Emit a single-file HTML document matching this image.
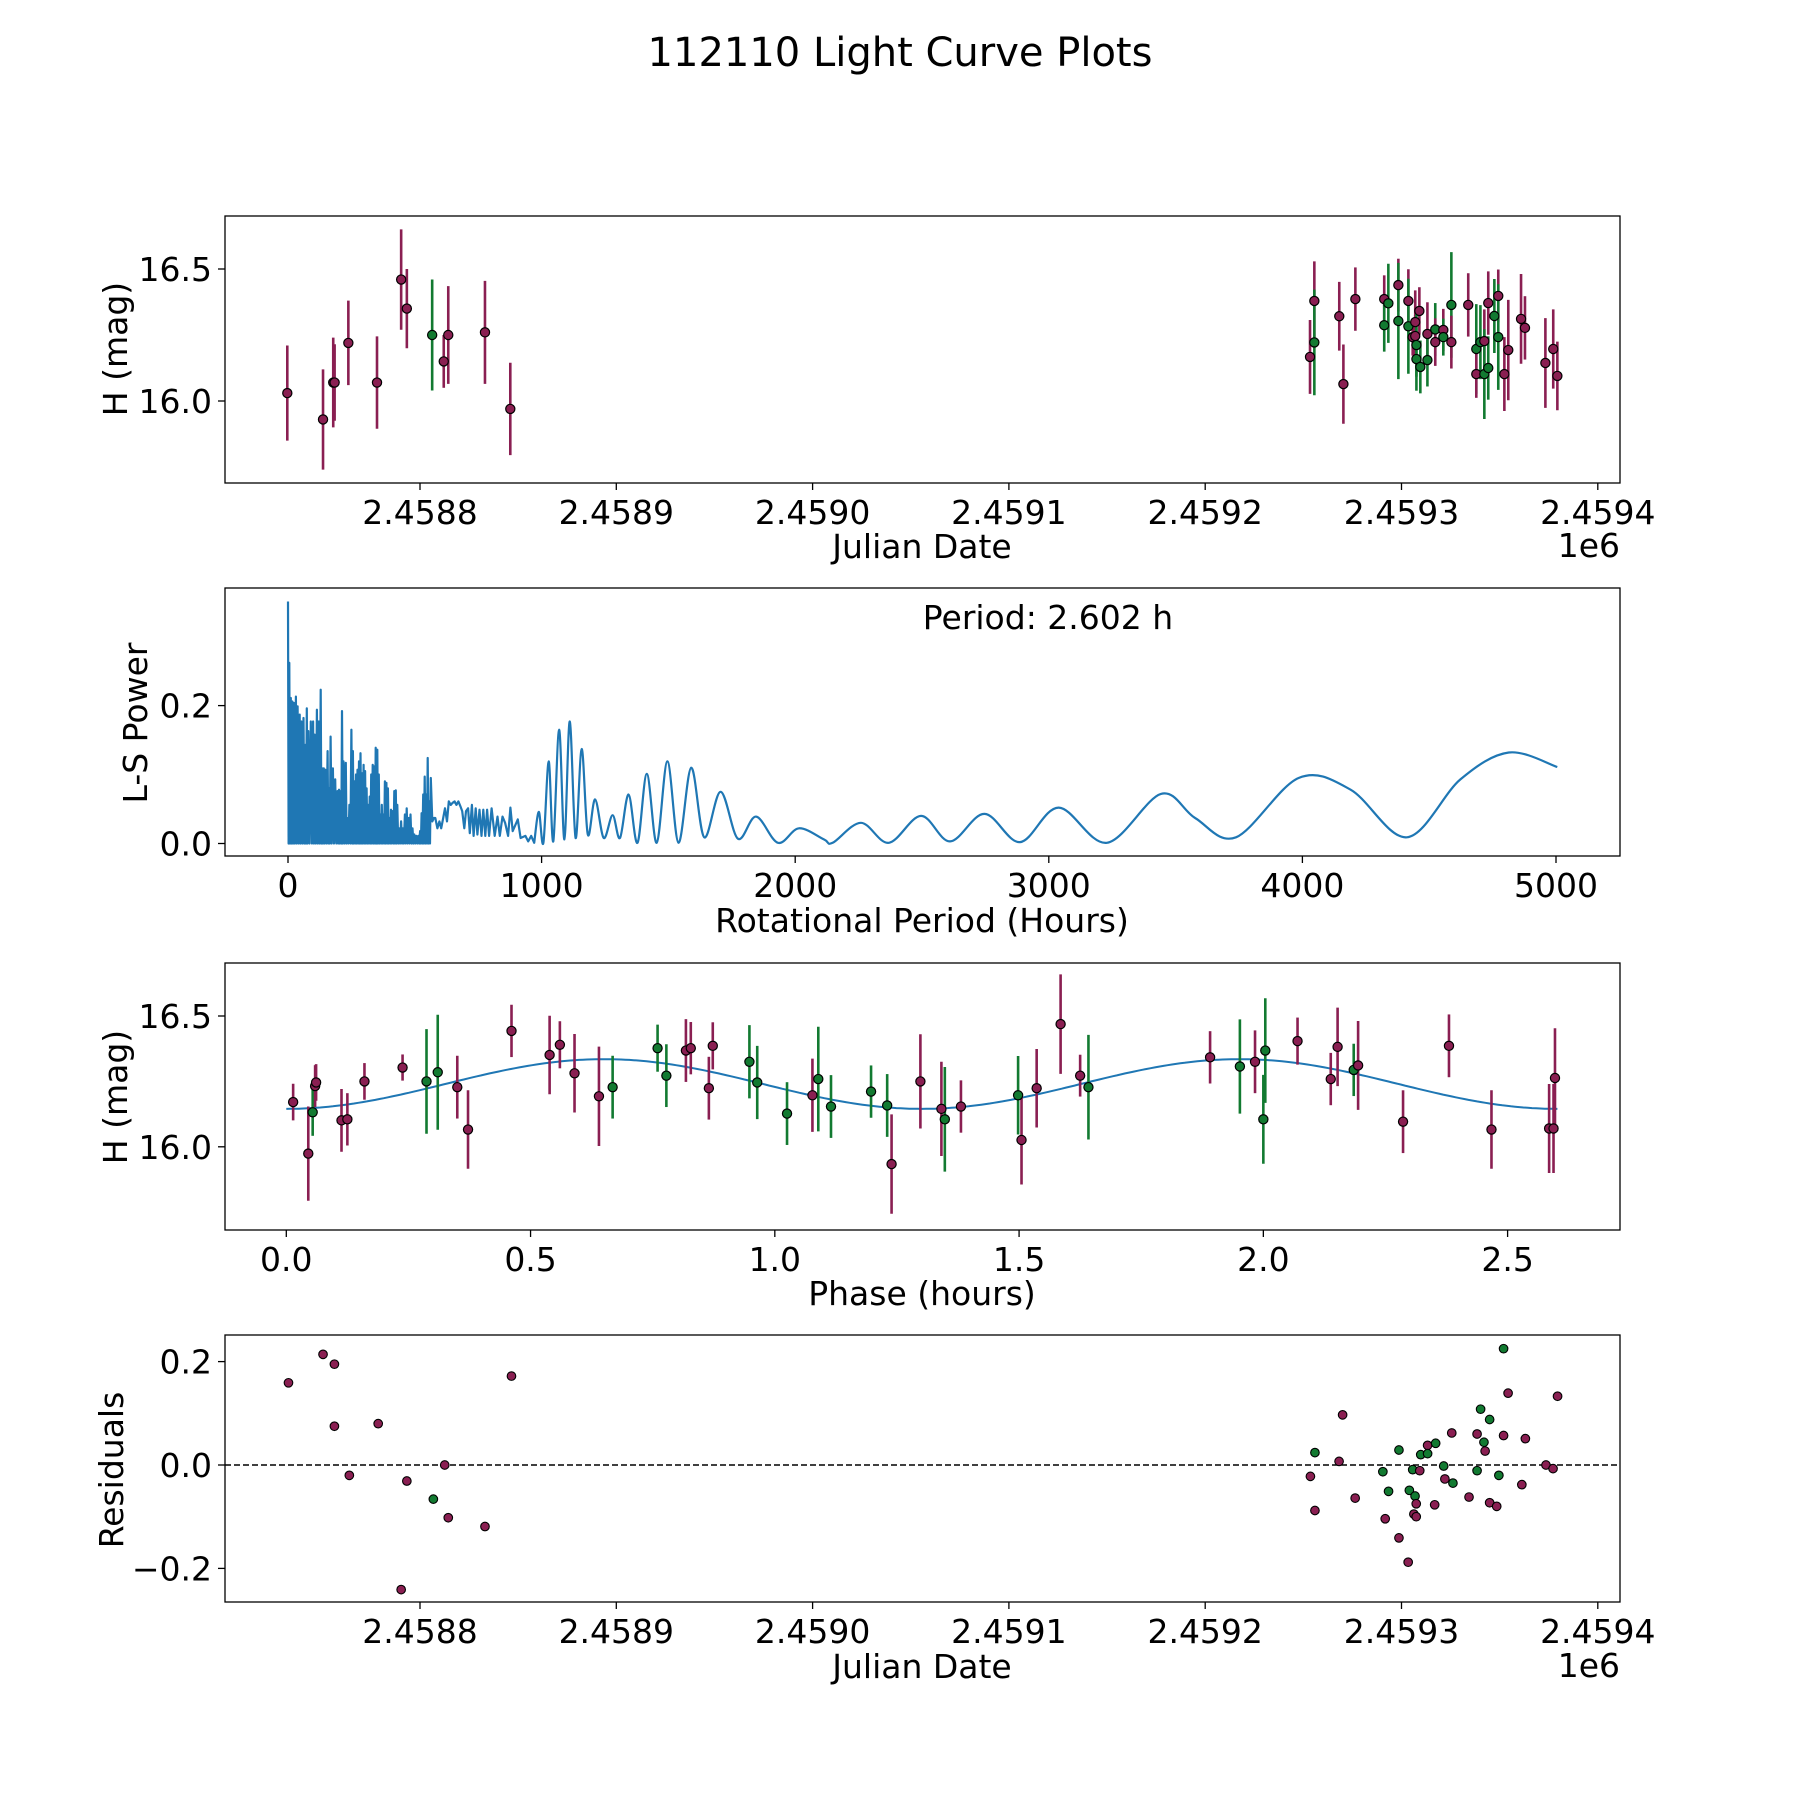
<!DOCTYPE html>
<html><head><meta charset="utf-8">
<style>
html,body{margin:0;padding:0;background:#fff;}
svg{display:block;font-family:"DejaVu Sans","Liberation Sans",sans-serif;}
</style></head>
<body>
<svg id="fig" width="1800" height="1800" viewBox="0 0 1800 1800" xmlns="http://www.w3.org/2000/svg">
<rect width="1800" height="1800" fill="#fff"/>
<text x="900" y="66" font-size="40" text-anchor="middle">112110 Light Curve Plots</text>
</svg>
<script>
// ---------- DATA ----------
const obsJD = [2458732.4,2458750.6,2458755.8,2458756.5,2458763.5,2458778.1,2458790.4,2458793.3,2458806.2,2458812.1,2458814.4,2458833.1,2458846.0,
2459253.4,2459255.6,2459255.6,2459268.3,2459270.4,2459276.5,2459291.2,2459293.3,2459291.2,2459298.4,2459298.4,2459303.5,2459303.5,2459309.1,2459307.0,2459305.7,2459307.0,2459307.6,2459307.6,2459309.6,2459313.2,2459313.2,2459317.2,2459317.2,2459321.3,2459321.3,2459325.4,2459325.4,2459334.0,2459338.1,2459338.1,2459340.2,2459342.2,2459342.2,2459344.2,2459344.2,2459347.3,2459349.3,2459349.3,2459352.4,2459354.4,2459360.9,2459362.9,2459373.3,2459377.3,2459379.4];
const obsMag = [16.03,15.93,16.07,16.07,16.22,16.07,16.46,16.35,16.25,16.15,16.25,16.26,15.97,
16.167,16.379,16.222,16.321,16.064,16.386,16.386,16.370,16.287,16.439,16.303,16.379,16.283,16.341,16.299,16.242,16.246,16.212,16.159,16.129,16.254,16.155,16.271,16.223,16.269,16.242,16.364,16.223,16.364,16.197,16.102,16.223,16.227,16.102,16.371,16.125,16.322,16.398,16.242,16.102,16.193,16.311,16.277,16.144,16.197,16.095];
const obsErr = [0.18,0.19,0.17,0.145,0.16,0.175,0.19,0.15,0.21,0.10,0.185,0.195,0.175,
0.14,0.15,0.20,0.13,0.15,0.12,0.09,0.15,0.10,0.10,0.22,0.12,0.18,0.09,0.12,0.07,0.08,0.12,0.12,0.10,0.12,0.10,0.10,0.09,0.08,0.07,0.20,0.10,0.12,0.17,0.09,0.14,0.12,0.17,0.12,0.12,0.14,0.10,0.20,0.14,0.19,0.17,0.12,0.17,0.15,0.13];
const obsFilt = ["p","p","p","p","p","p","p","p","g","p","p","p","p",
"p","p","g","p","p","p","p","g","g","p","g","p","g","p","p","p","p","g","g","g","p","g","g","p","p","g","g","p","p","g","p","g","p","g","p","g","g","p","g","p","p","p","p","p","p","p"];

const lsSpikePeriod = [0,5,11,17,23,31,38,46,53,61,68,74,80,90,99,105,114,121,129,135,141,147,156,162,168,177,186,195,201,207,213,219,228,234,242,250,256,262,268,274,280,286,292,298,304,310,316,322,328,334,340,346,352,358,364,370,376,382,388,394,400,406,413,419,425,431,438,446,453,461,468,476,483,491,498,506,514,521,527,533,539,545,551,557,563,569,575,581,589,597,604,612,619,627,634,642,649,657,664,672,680,687,695,702,710,717,725,732,740,747,755,763,770,778,785,793,803,815,826,835,846,856,868,877,886,906,917,936,947,959,971];
const lsSpikePower = [0.351,0.262,0.211,0.206,0.204,0.213,0.199,0.187,0.177,0.182,0.143,0.196,0.163,0.177,0.177,0.158,0.194,0.177,0.223,0.109,0.109,0.107,0.134,0.08,0.155,0.109,0.093,0.076,0.078,0.076,0.192,0.119,0.117,0.037,0.056,0.165,0.134,0.090,0.100,0.107,0.119,0.131,0.102,0.114,0.105,0.080,0.056,0.068,0.100,0.114,0.112,0.139,0.136,0.100,0.042,0.056,0.042,0.090,0.088,0.080,0.037,0.049,0.047,0.076,0.077,0.056,0.022,0.032,0.022,0.042,0.051,0.037,0.042,0.022,0.013,0.011,0.011,0.018,0.044,0.071,0.097,0.071,0.124,0.061,0.095,0.032,0.037,0.037,0.022,0.032,0.022,0.037,0.051,0.032,0.061,0.056,0.059,0.061,0.056,0.061,0.054,0.047,0.022,0.047,0.051,0.015,0.056,0.011,0.051,0.013,0.049,0.011,0.049,0.011,0.049,0.011,0.051,0.011,0.039,0.011,0.039,0.030,0.011,0.052,0.018,0.035,0.008,0.011,0.003,0.011,0.001];
const lsSmoothPeriod = [971,989,1007,1028,1046,1069,1090,1111,1134,1158,1182,1211,1245,1280,1309,1343,1378,1415,1454,1496,1540,1590,1641,1706,1774,1846,1932,2015,2113,2148,2259,2369,2496,2611,2746,2887,3039,3229,3442,3577,3738,3985,4190,4412,4623,4814,5005];
const lsSmoothPower = [0.001,0.046,0.001,0.119,0.003,0.165,0.006,0.177,0.008,0.137,0.013,0.064,0.008,0.041,0.008,0.071,0.001,0.101,0.001,0.119,0.001,0.110,0.009,0.075,0.007,0.039,0.001,0.022,0.006,0.001,0.030,0.001,0.040,0.003,0.043,0.002,0.052,0.001,0.072,0.037,0.009,0.095,0.078,0.009,0.093,0.132,0.111];
const bestPeriodLabel = "Period: 2.602 h";

const phaseX = [0.014,0.045,0.054,0.059,0.061,0.113,0.125,0.160,0.238,0.287,0.310,0.350,0.372,0.461,0.539,0.560,0.590,0.640,0.668,0.760,0.778,0.818,0.828,0.865,0.873,0.948,0.964,1.025,1.077,1.089,1.115,1.197,1.230,1.239,1.298,1.341,1.348,1.381,1.498,1.505,1.536,1.585,1.625,1.642,1.891,1.952,1.983,2.000,2.004,2.070,2.138,2.152,2.185,2.194,2.286,2.380,2.467,2.585,2.594,2.597];
const phaseMag = [16.171,15.974,16.132,16.232,16.246,16.101,16.105,16.250,16.303,16.250,16.285,16.228,16.066,16.443,16.351,16.390,16.281,16.193,16.228,16.377,16.272,16.368,16.377,16.224,16.386,16.325,16.246,16.127,16.197,16.259,16.154,16.211,16.158,15.934,16.250,16.145,16.105,16.154,16.197,16.026,16.224,16.469,16.272,16.228,16.342,16.307,16.325,16.105,16.368,16.404,16.259,16.382,16.294,16.311,16.096,16.386,16.066,16.070,16.070,16.263];
const phaseErr = [0.07,0.18,0.09,0.08,0.07,0.12,0.10,0.07,0.05,0.20,0.22,0.12,0.15,0.10,0.15,0.09,0.15,0.19,0.12,0.09,0.12,0.12,0.10,0.12,0.09,0.14,0.14,0.12,0.14,0.20,0.12,0.10,0.12,0.19,0.18,0.18,0.20,0.10,0.15,0.17,0.15,0.19,0.08,0.20,0.10,0.18,0.12,0.17,0.20,0.09,0.10,0.15,0.10,0.17,0.12,0.12,0.15,0.17,0.17,0.19];
const phaseFilt = ["p","p","g","p","p","p","p","p","p","g","g","p","p","p","p","p","p","p","g","g","g","p","p","p","p","g","g","g","p","g","g","g","g","p","p","p","g","p","g","p","p","p","p","g","p","g","p","g","g","p","p","p","g","p","p","p","p","p","p","p"];
const modelParams = [16.24, 0.095, 2.602];

const resJD = [2458733,2458750.6,2458756.4,2458756.4,2458764,2458778.7,2458790.4,2458793.3,2458806.8,2458812.6,2458814.4,2458833.1,2458846.6,
2459253.6,2459255.9,2459255.9,2459268.2,2459270,2459276.4,2459290.5,2459291.7,2459293.4,2459298.7,2459298.7,2459303.4,2459304,2459305.7,2459306.3,2459306.9,2459307.5,2459307.5,2459309.3,2459309.8,2459313.3,2459313.3,2459316.9,2459317.4,2459321.5,2459322.1,2459325.6,2459326.2,2459334.4,2459338.5,2459338.5,2459340.3,2459342,2459342.6,2459344.9,2459344.9,2459348.5,2459349.6,2459352,2459352,2459354.3,2459361.3,2459363.1,2459373.6,2459377.2,2459379.5];
const resVal = [0.159,0.214,0.195,0.075,-0.02,0.08,-0.241,-0.031,-0.066,0.0,-0.102,-0.119,0.172,
-0.022,0.024,-0.088,0.007,0.097,-0.064,-0.013,-0.104,-0.051,0.029,-0.141,-0.188,-0.049,-0.009,-0.095,-0.06,-0.075,-0.1,-0.011,0.02,0.038,0.022,-0.077,0.042,-0.002,-0.027,0.062,-0.035,-0.062,0.06,-0.011,0.108,0.044,0.027,0.088,-0.073,-0.08,-0.02,0.057,0.225,0.139,-0.038,0.051,0.0,-0.007,0.133];
const resFilt = ["p","p","p","p","p","p","p","p","g","p","p","p","p",
"p","g","p","p","p","p","g","p","g","g","p","p","g","g","p","g","p","p","p","g","p","g","p","g","g","p","p","g","p","p","g","g","g","p","g","p","p","g","p","g","p","p","p","p","p","p"];

// ---------- DRAWING ----------
const NS = "http://www.w3.org/2000/svg";
const svg = document.getElementById("fig");
const COL = {p:"#8a1f52", g:"#127a31"};
const BLUE = "#1f77b4";
const FS = 33;
function mk(tag, attrs, parent){ const e=document.createElementNS(NS,tag); for(const k in attrs) e.setAttribute(k,attrs[k]); (parent||svg).appendChild(e); return e; }
function txt(x,y,s,size,anchor,parent,rot){ const t=mk("text",{x:x,y:y,"font-size":size,"text-anchor":anchor||"middle"},parent); if(rot) t.setAttribute("transform","rotate(-90 "+x+" "+y+")"); t.textContent=s; return t; }

const X0=225, X1=1620;
function linmap(d0,d1,p0,p1){ return v=>p0+(v-d0)*(p1-p0)/(d1-d0); }
const jdX = linmap(2458800, 2459400, 420, 420+6*196.3);
const p1Y = linmap(16.0, 16.5, 401, 269);
const lsX = linmap(0, 5000, 288, 288+5*253.6);
const lsY = linmap(0, 0.2, 843.5, 705.6);
const phX = linmap(0, 2.5, 286.3, 1507.6);
const phY = linmap(16.0, 16.5, 1146.8, 1016);
const rY = linmap(0, 0.2, 1465, 1361.6);

function frame(g, top, bot, name){
  const r = mk("rect",{x:X0,y:top,width:X1-X0,height:bot-top,fill:"none",stroke:"#000","stroke-width":1.3},g);
  
  
}
function xTicks(g, vals, labels, fx, bot, name){
  vals.forEach((v,i)=>{
    const x=fx(v);
    const l=mk("line",{x1:x,x2:x,y1:bot,y2:bot+7,stroke:"#000","stroke-width":1.3},g);
    
    
    const t=txt(x,bot+41,labels[i],FS,"middle",g);
    
    
  });
}
function yTicks(g, vals, labels, fy, name){
  vals.forEach((v,i)=>{
    const y=fy(v);
    const l=mk("line",{x1:X0-7,x2:X0,y1:y,y2:y,stroke:"#000","stroke-width":1.3},g);
    
    
    const t=txt(X0-13,y+12,labels[i],FS,"end",g);
    
    
  });
}
function clip(id, top, bot){
  const d=mk("clipPath",{id:id}); mk("rect",{x:X0,y:top,width:X1-X0,height:bot-top},d);
}
function errPoints(g, xs, ys, es, fs, fx, fy, name){
  xs.forEach((v,i)=>{
    const x=fx(v), c=COL[fs[i]];
    const l=mk("line",{x1:x,x2:x,y1:fy(ys[i]-es[i]),y2:fy(ys[i]+es[i]),stroke:c,"stroke-width":2.6},g);
    
    
  });
  xs.forEach((v,i)=>{
    const c=mk("circle",{cx:fx(v),cy:fy(ys[i]),r:4.6,fill:COL[fs[i]],stroke:"#000","stroke-width":1.2},g);
    
    
  });
}
const jdTicks=[2458800,2458900,2459000,2459100,2459200,2459300,2459400];
const jdLabels=["2.4588","2.4589","2.4590","2.4591","2.4592","2.4593","2.4594"];

// ---- Panel 1
const g1=mk("g",{});


clip("c1",216,483);
const g1d=mk("g",{"clip-path":"url(#c1)"},g1);
errPoints(g1d, obsJD, obsMag, obsErr, obsFilt, jdX, p1Y, "observation");
frame(g1,216,483,"light-curve");
xTicks(g1, jdTicks, jdLabels, jdX, 483, "light-curve");
yTicks(g1, [16.0,16.5], ["16.0","16.5"], p1Y, "light-curve");
let t;
t=txt(922,558,"Julian Date",FS,"middle",g1);  
t=txt(1620,557,"1e6",FS,"end",g1);  
t=txt(127,349,"H (mag)",FS,"middle",g1,true);  

// ---- Panel 2
const g2=mk("g",{});


clip("c2",588,856);
const g2d=mk("g",{"clip-path":"url(#c2)"},g2);
let pts=[];
for(let i=0;i<lsSpikePeriod.length;i++){
  pts.push([lsX(lsSpikePeriod[i]), lsY(lsSpikePower[i])]);
  if(i<lsSpikePeriod.length-1 && lsSpikePeriod[i]<560){
    pts.push([lsX((lsSpikePeriod[i]+lsSpikePeriod[i+1])/2), lsY(0)]);
  }
}
let d="M"+pts.map(p=>p[0].toFixed(1)+","+p[1].toFixed(1)).join(" L");
const sp=lsSmoothPeriod.map((v,i)=>[lsX(v), lsY(lsSmoothPower[i])]);
for(let i=0;i<sp.length-1;i++){
  const p0=sp[Math.max(0,i-1)], p1=sp[i], p2=sp[i+1], p3=sp[Math.min(sp.length-1,i+2)];
  const c1=[p1[0]+(p2[0]-p0[0])/6, p1[1]+(p2[1]-p0[1])/6];
  const c2=[p2[0]-(p3[0]-p1[0])/6, p2[1]-(p3[1]-p1[1])/6];
  if(i===0) d+=" L"+p1[0].toFixed(1)+","+p1[1].toFixed(1);
  d+=" C"+c1[0].toFixed(1)+","+c1[1].toFixed(1)+" "+c2[0].toFixed(1)+","+c2[1].toFixed(1)+" "+p2[0].toFixed(1)+","+p2[1].toFixed(1);
}
const lsPath=mk("path",{d:d,fill:"none",stroke:BLUE,"stroke-width":2.2,"stroke-linejoin":"round"},g2d);


frame(g2,588,856,"periodogram");
xTicks(g2,[0,1000,2000,3000,4000,5000],["0","1000","2000","3000","4000","5000"],lsX,856,"periodogram");
yTicks(g2,[0,0.2],["0.0","0.2"],lsY,"periodogram");
t=txt(1048,629,bestPeriodLabel,FS,"middle",g2);  
t=txt(922,932,"Rotational Period (Hours)",FS,"middle",g2);  
t=txt(147,723,"L-S Power",FS,"middle",g2,true);  

// ---- Panel 3
const g3=mk("g",{});


clip("c3",963,1230);
const g3d=mk("g",{"clip-path":"url(#c3)"},g3);
let md="";
for(let k=0;k<=300;k++){
  const ph=modelParams[2]*k/300;
  const m=modelParams[0]-modelParams[1]*Math.cos(2*Math.PI*2*ph/modelParams[2]);
  md+=(k?" L":"M")+phX(ph).toFixed(1)+","+phY(m).toFixed(1);
}
const mp=mk("path",{d:md,fill:"none",stroke:BLUE,"stroke-width":2},g3d);


errPoints(g3d, phaseX, phaseMag, phaseErr, phaseFilt, phX, phY, "phase-point");
frame(g3,963,1230,"phase");
xTicks(g3,[0,0.5,1,1.5,2,2.5],["0.0","0.5","1.0","1.5","2.0","2.5"],phX,1230,"phase");
yTicks(g3,[16.0,16.5],["16.0","16.5"],phY,"phase");
t=txt(922,1305,"Phase (hours)",FS,"middle",g3);  
t=txt(127,1097,"H (mag)",FS,"middle",g3,true);  

// ---- Panel 4
const g4=mk("g",{});


clip("c4",1335,1602);
const g4d=mk("g",{"clip-path":"url(#c4)"},g4);
const zl=mk("line",{x1:X0,x2:X1,y1:rY(0),y2:rY(0),stroke:"#000","stroke-width":1.4,"stroke-dasharray":"6,3"},g4d);


resJD.forEach((v,i)=>{
  const c=mk("circle",{cx:jdX(v),cy:rY(resVal[i]),r:4.3,fill:COL[resFilt[i]],stroke:"#000","stroke-width":1.1},g4d);
  
  
});
frame(g4,1335,1602,"residuals");
xTicks(g4, jdTicks, jdLabels, jdX, 1602, "residuals");
yTicks(g4,[-0.2,0,0.2],["\u22120.2","0.0","0.2"],rY,"residuals");
t=txt(922,1678,"Julian Date",FS,"middle",g4);  
t=txt(1620,1677,"1e6",FS,"end",g4);  
t=txt(123,1470,"Residuals",FS,"middle",g4,true);  
</script>
</body></html>
